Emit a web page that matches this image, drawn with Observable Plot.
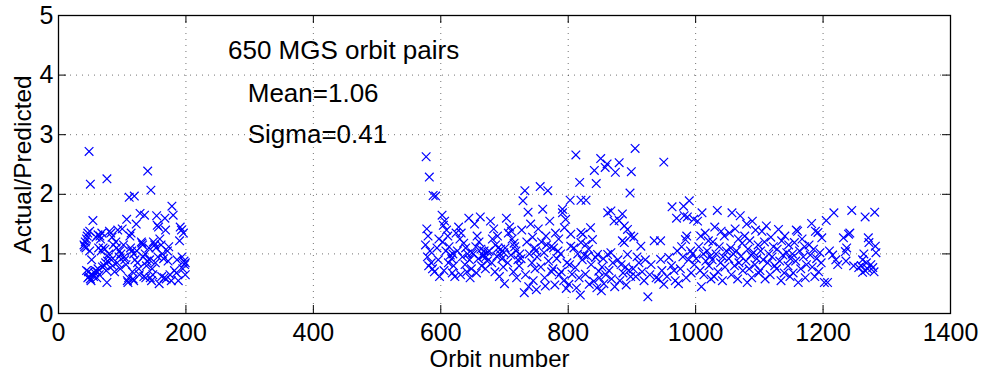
<!DOCTYPE html>
<html>
<head>
<meta charset="utf-8">
<script src="https://cdn.jsdelivr.net/npm/d3@7"></script>
<script src="https://cdn.jsdelivr.net/npm/@observablehq/plot@0.6"></script>
<style>
  html, body { margin: 0; padding: 0; background: #fff; }
  #chart { width: 981px; height: 372px; }
</style>
</head>
<body>
<div id="chart"></div>
<script>
// Tick values
const xTicks = [0, 200, 400, 600, 800, 1000, 1200, 1400];
const yTicks = [0, 1, 2, 3, 4, 5];
const xLabel = "Orbit number";
const yLabel = "Actual/Predicted";

// Annotation texts (positions in data units)
const notes = [
  {text: "650 MGS orbit pairs", orbit: 266, ratio: 4.41},
  {text: "Mean=1.06", orbit: 297, ratio: 3.69},
  {text: "Sigma=0.41", orbit: 297, ratio: 3.00}
];

// Early orbits [orbit, actual/predicted]
const earlyPairs = [
  [40,1.15],[41,1.12],[42,1.20],[44,1.25],[43,1.10],[46,1.35],[44,0.72],[47,0.70],[48,0.62],[50,0.58],[51,0.55],[49,1.05],[48,2.72],[50,2.17],[52,0.90],[53,0.65],[45,1.30],[49,1.38],[46,0.60],
  [54,1.56],[55,0.62],[57,0.68],[58,0.72],[60,0.60],[59,1.28],[62,1.32],[63,1.10],[61,0.70],[64,0.65],[66,1.25],[65,1.30],[62,0.75],
  [68,1.35],[67,1.05],[70,1.10],[69,0.78],[72,0.80],[73,1.08],[74,0.85],[76,0.52],[76,2.26],[77,0.88],[75,0.72],[78,0.95],[80,1.38],[79,1.00],
  [82,1.35],[84,1.28],[86,1.15],[83,0.90],[85,0.80],[88,0.70],[90,1.20],[91,1.10],[93,1.40],[92,0.85],[95,0.95],[96,1.05],[98,1.00],[97,0.75],
  [100,1.42],[102,1.15],[103,0.95],[104,0.90],[106,0.82],[108,0.55],[109,0.52],[110,0.60],[107,1.58],[111,1.95],[112,1.30],[114,1.35],[113,1.10],[115,1.05],[116,0.70],[117,0.58],[118,0.55],[119,1.97],[118,1.00],[120,0.90],
  [122,1.50],[123,1.05],[124,0.85],[126,0.75],[127,0.65],[128,1.68],[135,1.65],[130,1.20],[132,1.15],[133,0.95],[134,0.62],[137,0.60],[136,1.00],[138,0.80],[139,0.88],[131,1.18],[140,2.39],
  [145,2.07],[142,1.10],[143,0.90],[144,0.60],[146,0.55],[148,0.65],[149,1.20],[151,1.15],[154,1.64],[155,1.48],[157,1.45],[158,0.50],[152,0.85],[156,0.95],[159,1.25],[153,1.10],[147,0.75],
  [167,1.60],[161,1.15],[163,1.00],[165,0.92],[162,0.62],[166,0.60],[169,0.58],[171,1.05],[173,1.12],[172,0.88],[175,0.65],[177,0.55],[178,1.80],[180,1.65],[168,1.40],
  [191,1.45],[193,1.40],[196,1.35],[190,1.22],[194,0.95],[197,0.88],[198,0.82],[195,0.75],[199,0.65],[188,0.55],[185,0.68],[182,0.72],[186,0.90],[199,0.85]
];

// Later orbits [orbit, actual/predicted]
const latePairs = [
  [577,2.63],[582,2.29],[588,1.98],[592,1.97],[578,1.42],[580,1.30],[576,1.15],[583,1.05],[579,0.95],[585,0.85],[581,0.80],[587,0.75],[590,0.70],[594,1.10],[596,0.90],[598,0.62],[597,1.25],
  [602,1.65],[606,1.55],[604,1.48],[609,1.40],[611,1.30],[603,1.20],[613,1.12],[608,1.05],[615,0.98],[617,0.92],[612,0.85],[620,0.80],[605,0.72],[618,0.68],[622,0.62],[624,1.35],[619,1.00],
  [628,1.45],[632,1.35],[630,1.25],[636,1.18],[639,1.10],[626,1.05],[642,1.00],[634,0.95],[645,0.90],[638,0.82],[648,0.75],[641,0.70],[631,0.65],[646,0.60],[644,1.60],[649,1.02],
  [653,1.50],[657,1.30],[660,1.20],[655,1.12],[663,1.08],[668,1.05],[651,1.00],[666,0.98],[671,0.95],[659,0.92],[673,0.88],[664,0.80],[670,0.75],[656,0.68],[662,1.62],[674,1.03],[667,0.97],
  [678,1.55],[683,1.42],[681,1.25],[686,1.15],[690,1.10],[676,1.05],[693,1.00],[688,0.96],[696,0.92],[680,0.85],[698,0.78],[685,0.70],[692,0.62],[699,1.02],[694,1.08],[689,1.30],
  [703,1.60],[708,1.45],[706,1.35],[712,1.25],[715,1.18],[701,1.10],[718,1.05],[710,0.98],[721,0.90],[705,0.85],[723,0.80],[714,0.70],[719,0.60],[700,0.50],[724,1.00],[716,1.12],[711,1.38],
  [732,2.06],[729,1.89],[737,1.70],[741,1.50],[727,1.40],[744,1.28],[735,1.20],[747,1.10],[739,1.00],[726,0.92],[743,0.85],[748,0.75],[733,0.65],[745,0.55],[738,0.45],[731,0.35],[749,1.05],
  [756,2.13],[768,2.06],[760,1.75],[771,1.55],[753,1.42],[765,1.30],[758,1.20],[773,1.12],[762,1.02],[751,0.95],[769,0.88],[757,0.78],[774,0.70],[763,0.60],[764,0.46],[750,0.40],[766,1.15],
  [791,1.75],[791,1.69],[796,1.58],[794,1.44],[780,1.35],[785,1.25],[777,1.10],[788,1.00],[782,0.92],[798,0.85],[776,0.75],[786,0.65],[793,0.55],[779,0.48],[797,0.42],[784,1.05],[789,0.70],
  [812,2.66],[818,2.20],[803,1.90],[820,1.90],[820,1.36],[823,1.33],[804,1.33],[820,1.19],[804,1.13],[809,1.10],[815,1.00],[825,0.98],[802,0.82],[811,0.77],[806,0.66],[817,0.60],[801,0.49],[813,0.43],[819,0.31],[822,0.90],
  [841,2.40],[844,2.18],[828,1.90],[835,1.44],[838,1.24],[828,1.16],[832,1.08],[846,0.99],[830,0.96],[843,0.94],[836,0.82],[848,0.71],[827,0.66],[840,0.54],[833,0.49],[845,0.43],[849,0.60],
  [851,2.60],[861,2.51],[858,2.45],[874,2.37],[867,1.72],[862,1.69],[872,1.55],[867,1.02],[862,0.99],[855,0.92],[870,0.85],[853,0.78],[864,0.72],[859,0.65],[868,0.58],[856,0.50],[873,0.45],[852,0.38],
  [880,2.53],[899,2.38],[897,2.02],[885,1.67],[880,1.56],[888,1.47],[893,1.41],[885,1.22],[888,1.19],[893,0.99],[878,0.90],[883,0.82],[890,0.78],[895,0.72],[886,0.68],[898,0.62],[881,0.55],[891,0.48],
  [905,2.77],[898,1.30],[903,1.28],[914,1.13],[908,0.95],[911,0.85],[902,0.75],[916,0.70],[906,0.62],[919,0.55],[925,0.28],[921,0.90],
  [935,1.22],[945,1.22],[945,0.91],[930,0.82],[938,0.60],[942,0.58],[928,0.65],[950,0.49],[950,2.54],[947,0.72],
  [970,1.60],[971,1.05],[958,0.94],[962,0.80],[966,0.72],[955,0.62],[968,0.55],[973,0.50],[963,1.79],
  [990,1.89],[981,1.80],[982,1.64],[987,1.62],[997,1.58],[986,1.30],[984,1.24],[978,1.12],[992,1.05],[995,1.00],[980,0.95],[989,0.90],[998,0.82],[976,0.75],[993,0.68],[985,0.60],
  [1010,1.69],[1003,1.55],[1015,1.35],[1008,1.30],[1020,1.22],[1005,1.12],[1018,1.05],[1012,1.00],[1023,0.96],[1001,0.92],[1016,0.88],[1021,0.80],[1007,0.72],[1013,0.65],[1024,0.58],[1009,0.45],
  [1034,1.73],[1030,1.45],[1040,1.38],[1045,1.30],[1027,1.20],[1037,1.12],[1048,1.05],[1032,1.00],[1043,0.95],[1026,0.90],[1039,0.85],[1046,0.78],[1035,0.70],[1029,0.62],[1042,0.55],
  [1057,1.69],[1070,1.64],[1062,1.42],[1053,1.35],[1067,1.25],[1073,1.18],[1055,1.10],[1064,1.05],[1059,1.00],[1071,0.96],[1052,0.92],[1068,0.85],[1061,0.80],[1074,0.72],[1056,0.65],[1066,0.58],
  [1089,1.55],[1080,1.50],[1094,1.40],[1077,1.30],[1085,1.22],[1098,1.15],[1082,1.08],[1091,1.02],[1087,0.98],[1096,0.92],[1079,0.88],[1093,0.82],[1084,0.75],[1099,0.68],[1088,0.60],[1081,0.52],
  [1111,1.47],[1104,1.38],[1118,1.28],[1108,1.20],[1122,1.12],[1102,1.05],[1115,1.00],[1120,0.95],[1106,0.90],[1113,0.85],[1124,0.80],[1101,0.72],[1117,0.65],[1109,0.58],
  [1130,1.41],[1140,1.30],[1135,1.22],[1146,1.15],[1128,1.08],[1143,1.02],[1137,0.98],[1149,0.92],[1132,0.88],[1145,0.80],[1127,0.75],[1139,0.68],[1148,0.62],[1134,0.55],
  [1158,1.40],[1160,1.38],[1167,1.25],[1155,1.19],[1171,1.12],[1163,1.05],[1152,1.00],[1169,0.95],[1157,0.88],[1174,0.82],[1165,0.75],[1153,0.68],[1172,0.60],[1161,0.52],
  [1182,1.51],[1188,1.38],[1192,1.36],[1198,1.27],[1178,1.15],[1185,1.08],[1195,1.02],[1180,0.98],[1190,0.92],[1197,0.85],[1183,0.78],[1193,0.70],[1187,0.62],
  [1217,1.69],[1205,1.56],[1210,1.05],[1215,0.98],[1220,0.90],[1202,0.52],[1207,0.52],[1223,0.82],
  [1245,1.73],[1242,1.35],[1240,1.33],[1232,1.27],[1237,1.10],[1235,1.04],[1236,0.88],[1248,0.80],[1256,0.77],
  [1266,1.62],[1281,1.70],[1271,1.27],[1272,1.19],[1282,1.13],[1283,1.02],[1264,1.00],[1262,0.90],[1268,0.85],[1275,0.82],[1260,0.80],[1278,0.77],[1270,0.75],[1266,0.72],[1280,0.70],[1262,0.69]
];

const points = earlyPairs.concat(latePairs).map(([orbit, ratio]) => ({orbit, ratio}));

const W = 981, H = 372;
const mL = 58, mR = 31, mT = 15, mB = 59;
const frameW = W - mL - mR, frameH = H - mT - mB;
const tickLen = 8;
const gridStyle = {stroke: "#000", strokeOpacity: 0.55, strokeDasharray: "1,5"};
const xInner = xTicks.slice(1, -1);
const yInner = yTicks.slice(1, -1);
const plainNum = d => String(d);

const chart = Plot.plot({
  width: W, height: H,
  marginLeft: mL, marginRight: mR, marginTop: mT, marginBottom: mB,
  style: {fontFamily: "'Liberation Sans', Arial, sans-serif", fontSize: "25px", color: "#000", background: "#fff", overflow: "visible"},
  x: {domain: [xTicks[0], xTicks[xTicks.length - 1]]},
  y: {domain: [yTicks[0], yTicks[yTicks.length - 1]]},
  marks: [
    Plot.ruleX(xInner, {x: d => d, ...gridStyle}),
    Plot.ruleY(yInner, {y: d => d, ...gridStyle}),
    Plot.dot(points, {x: "orbit", y: "ratio", symbol: "times", r: 4, stroke: "#0000ff", strokeWidth: 1.2}),
    Plot.tickX(xTicks, {x: d => d, insetTop: frameH - tickLen, stroke: "#000"}),
    Plot.tickX(xTicks, {x: d => d, insetBottom: frameH - tickLen, stroke: "#000"}),
    Plot.tickY(yTicks, {y: d => d, insetRight: frameW - tickLen, stroke: "#000"}),
    Plot.tickY(yTicks, {y: d => d, insetLeft: frameW - tickLen, stroke: "#000"}),
    Plot.frame({stroke: "#000", strokeWidth: 1.3}),
    Plot.axisX(xTicks, {tickSize: 0, tickPadding: 10, label: null, fontSize: 25, tickFormat: plainNum}),
    Plot.axisY(yTicks, {tickSize: 0, tickPadding: 5, label: null, fontSize: 25, tickFormat: plainNum}),
    Plot.text([xLabel], {text: d => d, frameAnchor: "bottom", textAnchor: "middle", dy: 46, dx: -5, fontSize: 24, lineAnchor: "middle"}),
    Plot.text([yLabel], {text: d => d, frameAnchor: "left", textAnchor: "middle", dx: -35, rotate: -90, fontSize: 24.5, lineAnchor: "middle"}),
    Plot.text(notes, {x: "orbit", y: "ratio", text: "text", textAnchor: "start", lineAnchor: "middle", fontSize: 26})
  ]
});
document.getElementById("chart").appendChild(chart);
</script>
</body>
</html>
